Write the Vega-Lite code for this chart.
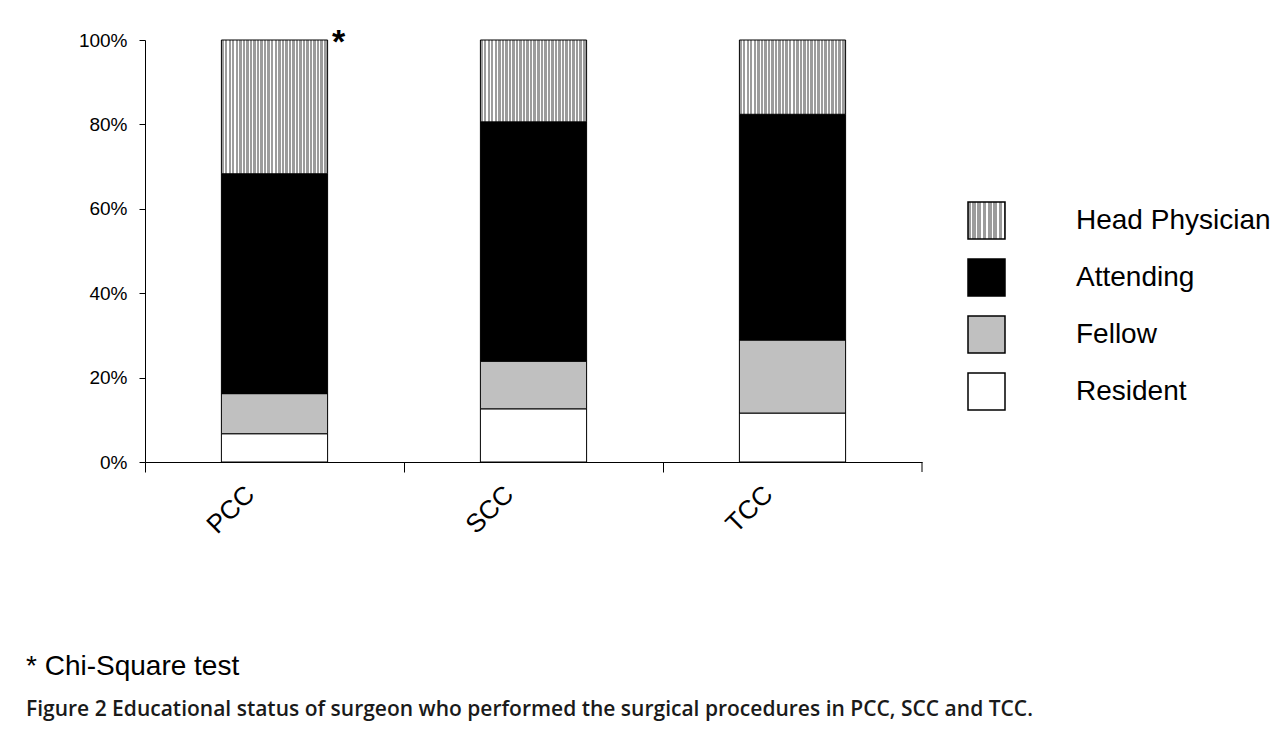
{
  "$schema": "https://vega.github.io/schema/vega-lite/v6.json",
  "autosize": {"type": "none"},
  "width": 777,
  "height": 422,
  "padding": {"left": 145, "top": 40, "right": 363, "bottom": 270},
  "background": "white",
  "title": {
    "text": "* Chi-Square test",
    "subtitle": "Figure 2 Educational status of surgeon who performed the surgical procedures in PCC, SCC and TCC.",
    "orient": "bottom",
    "anchor": "start",
    "frame": "group",
    "dx": -119,
    "offset": 115,
    "font": "Liberation Sans",
    "fontSize": 28,
    "fontWeight": "normal",
    "color": "black",
    "subtitleFont": "Open Sans",
    "subtitleFontSize": 21,
    "subtitleFontWeight": 600,
    "subtitleColor": "#1a1a1a",
    "subtitlePadding": 18
  },
  "layer": [
    {
      "data": {"values": [
        {"cat": "PCC", "status": "Resident", "rank": 1, "pct": 6.7},
        {"cat": "PCC", "status": "Fellow", "rank": 2, "pct": 9.5},
        {"cat": "PCC", "status": "Attending", "rank": 3, "pct": 52.1},
        {"cat": "PCC", "status": "Head Physician", "rank": 4, "pct": 31.7},
        {"cat": "SCC", "status": "Resident", "rank": 1, "pct": 12.6},
        {"cat": "SCC", "status": "Fellow", "rank": 2, "pct": 11.3},
        {"cat": "SCC", "status": "Attending", "rank": 3, "pct": 56.7},
        {"cat": "SCC", "status": "Head Physician", "rank": 4, "pct": 19.4},
        {"cat": "TCC", "status": "Resident", "rank": 1, "pct": 11.6},
        {"cat": "TCC", "status": "Fellow", "rank": 2, "pct": 17.3},
        {"cat": "TCC", "status": "Attending", "rank": 3, "pct": 53.5},
        {"cat": "TCC", "status": "Head Physician", "rank": 4, "pct": 17.6}
      ]},
      "mark": {"type": "bar", "width": {"band": 0.41}, "stroke": "black", "strokeWidth": 1},
      "encoding": {
        "x": {
          "field": "cat", "type": "nominal", "sort": null,
          "scale": {"paddingInner": 0, "paddingOuter": 0},
          "axis": {
            "title": null, "bandPosition": 0, "labelAngle": -45, "labelAlign": "right",
            "labelBaseline": "middle", "labelFontSize": 26, "labelOffset": -24,
            "labelPadding": 18, "tickSize": 10, "domainWidth": 1, "tickWidth": 1
          }
        },
        "y": {
          "field": "pct", "type": "quantitative", "stack": "normalize",
          "scale": {"domain": [0, 1]},
          "axis": {
            "title": null, "format": ".0%", "values": [0, 0.2, 0.4, 0.6, 0.8, 1],
            "labelFontSize": 19, "tickSize": 6, "labelPadding": 12, "domainWidth": 1
          }
        },
        "fill": {
          "field": "status", "type": "nominal",
          "scale": {
            "domain": ["Head Physician", "Attending", "Fellow", "Resident"],
            "range": [
              {"expr": "{gradient:'linear',stops:[{offset:0,color:'#9c9c9c'},{offset:0.023,color:'#9c9c9c'},{offset:0.023,color:'#ffffff'},{offset:0.033,color:'#ffffff'},{offset:0.033,color:'#9c9c9c'},{offset:0.057,color:'#9c9c9c'},{offset:0.057,color:'#ffffff'},{offset:0.067,color:'#ffffff'},{offset:0.067,color:'#9c9c9c'},{offset:0.09,color:'#9c9c9c'},{offset:0.09,color:'#ffffff'},{offset:0.1,color:'#ffffff'},{offset:0.1,color:'#9c9c9c'},{offset:0.123,color:'#9c9c9c'},{offset:0.123,color:'#ffffff'},{offset:0.133,color:'#ffffff'},{offset:0.133,color:'#9c9c9c'},{offset:0.157,color:'#9c9c9c'},{offset:0.157,color:'#ffffff'},{offset:0.167,color:'#ffffff'},{offset:0.167,color:'#9c9c9c'},{offset:0.19,color:'#9c9c9c'},{offset:0.19,color:'#ffffff'},{offset:0.2,color:'#ffffff'},{offset:0.2,color:'#9c9c9c'},{offset:0.223,color:'#9c9c9c'},{offset:0.223,color:'#ffffff'},{offset:0.233,color:'#ffffff'},{offset:0.233,color:'#9c9c9c'},{offset:0.257,color:'#9c9c9c'},{offset:0.257,color:'#ffffff'},{offset:0.267,color:'#ffffff'},{offset:0.267,color:'#9c9c9c'},{offset:0.29,color:'#9c9c9c'},{offset:0.29,color:'#ffffff'},{offset:0.3,color:'#ffffff'},{offset:0.3,color:'#9c9c9c'},{offset:0.323,color:'#9c9c9c'},{offset:0.323,color:'#ffffff'},{offset:0.333,color:'#ffffff'},{offset:0.333,color:'#9c9c9c'},{offset:0.357,color:'#9c9c9c'},{offset:0.357,color:'#ffffff'},{offset:0.367,color:'#ffffff'},{offset:0.367,color:'#9c9c9c'},{offset:0.39,color:'#9c9c9c'},{offset:0.39,color:'#ffffff'},{offset:0.4,color:'#ffffff'},{offset:0.4,color:'#9c9c9c'},{offset:0.423,color:'#9c9c9c'},{offset:0.423,color:'#ffffff'},{offset:0.433,color:'#ffffff'},{offset:0.433,color:'#9c9c9c'},{offset:0.457,color:'#9c9c9c'},{offset:0.457,color:'#ffffff'},{offset:0.467,color:'#ffffff'},{offset:0.467,color:'#9c9c9c'},{offset:0.49,color:'#9c9c9c'},{offset:0.49,color:'#ffffff'},{offset:0.5,color:'#ffffff'},{offset:0.5,color:'#9c9c9c'},{offset:0.523,color:'#9c9c9c'},{offset:0.523,color:'#ffffff'},{offset:0.533,color:'#ffffff'},{offset:0.533,color:'#9c9c9c'},{offset:0.557,color:'#9c9c9c'},{offset:0.557,color:'#ffffff'},{offset:0.567,color:'#ffffff'},{offset:0.567,color:'#9c9c9c'},{offset:0.59,color:'#9c9c9c'},{offset:0.59,color:'#ffffff'},{offset:0.6,color:'#ffffff'},{offset:0.6,color:'#9c9c9c'},{offset:0.623,color:'#9c9c9c'},{offset:0.623,color:'#ffffff'},{offset:0.633,color:'#ffffff'},{offset:0.633,color:'#9c9c9c'},{offset:0.657,color:'#9c9c9c'},{offset:0.657,color:'#ffffff'},{offset:0.667,color:'#ffffff'},{offset:0.667,color:'#9c9c9c'},{offset:0.69,color:'#9c9c9c'},{offset:0.69,color:'#ffffff'},{offset:0.7,color:'#ffffff'},{offset:0.7,color:'#9c9c9c'},{offset:0.723,color:'#9c9c9c'},{offset:0.723,color:'#ffffff'},{offset:0.733,color:'#ffffff'},{offset:0.733,color:'#9c9c9c'},{offset:0.757,color:'#9c9c9c'},{offset:0.757,color:'#ffffff'},{offset:0.767,color:'#ffffff'},{offset:0.767,color:'#9c9c9c'},{offset:0.79,color:'#9c9c9c'},{offset:0.79,color:'#ffffff'},{offset:0.8,color:'#ffffff'},{offset:0.8,color:'#9c9c9c'},{offset:0.823,color:'#9c9c9c'},{offset:0.823,color:'#ffffff'},{offset:0.833,color:'#ffffff'},{offset:0.833,color:'#9c9c9c'},{offset:0.857,color:'#9c9c9c'},{offset:0.857,color:'#ffffff'},{offset:0.867,color:'#ffffff'},{offset:0.867,color:'#9c9c9c'},{offset:0.89,color:'#9c9c9c'},{offset:0.89,color:'#ffffff'},{offset:0.9,color:'#ffffff'},{offset:0.9,color:'#9c9c9c'},{offset:0.923,color:'#9c9c9c'},{offset:0.923,color:'#ffffff'},{offset:0.933,color:'#ffffff'},{offset:0.933,color:'#9c9c9c'},{offset:0.957,color:'#9c9c9c'},{offset:0.957,color:'#ffffff'},{offset:0.967,color:'#ffffff'},{offset:0.967,color:'#9c9c9c'},{offset:0.99,color:'#9c9c9c'},{offset:0.99,color:'#ffffff'},{offset:1,color:'#ffffff'}]}"},
              "#000000", "#c0c0c0", "#ffffff"
            ]
          },
          "legend": {
            "orient": "none", "legendX": 822, "legendY": 161, "title": null,
            "symbolType": "square", "symbolSize": 1369, "symbolStrokeColor": "black",
            "symbolStrokeWidth": 1.5, "symbolOpacity": 1, "labelFont": "Liberation Sans",
            "labelFontSize": 28, "labelColor": "black", "labelOffset": 70,
            "rowPadding": 14, "padding": 0, "labelLimit": 400
          }
        },
        "order": {"field": "rank", "type": "quantitative"}
      }
    },
    {
      "data": {"values": [{"cat": "TCC"}]},
      "mark": {"type": "rule", "color": "black", "strokeWidth": 1, "y2Offset": 10},
      "encoding": {
        "x": {"field": "cat", "type": "nominal", "bandPosition": 1},
        "y": {"datum": 0},
        "y2": {"datum": 0}
      }
    },
    {
      "data": {"values": [{"cat": "PCC", "note": "*"}]},
      "mark": {"type": "text", "font": "Liberation Sans", "fontSize": 34, "fontWeight": "bold", "dx": 64, "dy": 13, "align": "center", "baseline": "alphabetic", "color": "black"},
      "encoding": {
        "x": {"field": "cat", "type": "nominal"},
        "y": {"datum": 1},
        "text": {"field": "note"}
      }
    }
  ],
  "config": {
    "view": {"stroke": null},
    "axis": {"domainColor": "black", "tickColor": "black", "labelColor": "black", "labelFont": "Liberation Sans", "grid": false}
  }
}
